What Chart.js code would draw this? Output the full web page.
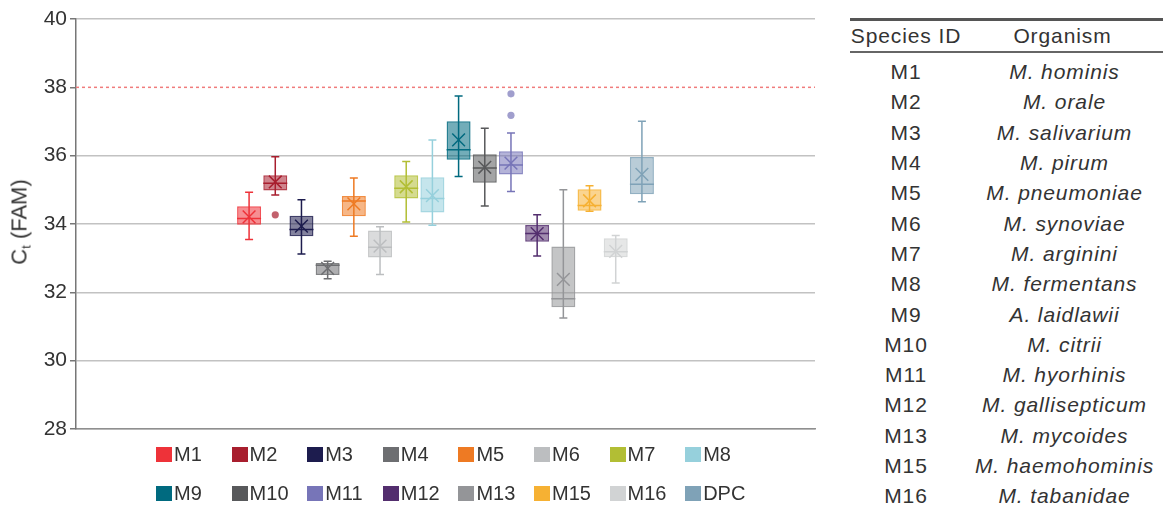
<!DOCTYPE html>
<html>
<head>
<meta charset="utf-8">
<script src="https://cdn.jsdelivr.net/npm/chart.js@4"></script>
<style>
  body { margin: 0; background: #fff; font-family: "Liberation Sans", Arial, sans-serif; color: #333; }
  #wrap { position: absolute; left: 0; top: 0; width: 840px; height: 508px; }
  #ytitle { position: absolute; left: 20px; top: 222px; transform: translate(-50%, -50%) rotate(-90deg);
            font-size: 22px; white-space: nowrap; color: #333; }
  #ytitle sub { font-size: 13px; vertical-align: -4px; }
  #legend { position: absolute; left: 156px; top: 446px; width: 620px; display: grid;
            grid-template-columns: repeat(8, 75.6px); row-gap: 23px; }
  .item { display: flex; align-items: center; height: 16px; font-size: 20px; }
  .sw { width: 16px; height: 15px; margin-right: 2px; flex: none; }
  #tbl { position: absolute; left: 850px; top: 18px; width: 313px; border-collapse: collapse; font-size: 21px; letter-spacing: 0.9px; }
  #tbl th { font-weight: normal; height: 30px; padding: 0; border-top: 3px solid #555; border-bottom: 2px solid #666; }
  #tbl td { height: 30.3px; padding: 0; text-align: center; }
  #tbl td.org { font-style: italic; padding-left: 4px; }
  #tbl tr.first td { padding-top: 4px; }
</style>
</head>
<body>
<div id="wrap"><canvas id="myChart"></canvas></div>
<div id="ytitle">C<sub>t</sub> (FAM)</div>
<div id="legend"></div>
<table id="tbl"></table>
<script>
// box plot values
var seriesNames = ['M1','M2','M3','M4','M5','M6','M7','M8','M9','M10','M11','M12','M13','M15','M16','DPC'];
var seriesColors = ['#EE3239','#A81E2E','#1D1C4E','#6D6E71','#EE7A23','#BCBEC0','#B2BE34','#96D0DC',
                    '#006A7F','#58595B','#7775B8','#532E6E','#949598','#F6B133','#D1D3D4','#7FA2B7'];
var mins    = [33.55, 34.85, 33.12, 32.40, 33.64, 32.52, 34.06, 33.96, 35.39, 34.53, 34.95, 33.06, 31.25, 34.37, 32.27, 34.65];
var q1s     = [33.98, 34.98, 33.64, 32.51, 34.23, 33.02, 34.75, 34.34, 35.88, 35.21, 35.45, 33.48, 31.56, 34.39, 33.03, 34.87];
var medians = [34.16, 35.19, 33.84, 32.79, 34.67, 33.32, 35.05, 34.75, 36.17, 35.64, 35.73, 33.72, 31.81, 34.54, 33.19, 35.16];
var q3s     = [34.52, 35.43, 34.24, 32.86, 34.82, 33.81, 35.43, 35.37, 37.01, 36.04, 36.13, 33.97, 33.34, 35.02, 33.58, 35.96];
var maxs    = [34.93, 35.97, 34.71, 32.91, 35.35, 33.92, 35.83, 36.46, 37.75, 36.80, 36.66, 34.27, 35.00, 35.12, 33.66, 37.01];
var means   = [34.21, 35.23, 33.94, 32.70, 34.59, 33.35, 35.09, 34.83, 36.46, 35.66, 35.78, 33.72, 32.38, 34.68, 33.20, 35.45];
var outliers = [[], [34.27], [], [], [], [], [], [], [], [], [37.18, 37.81], [], [], [], [], []];
var cutoff = 38;
var yTicks = [28, 30, 32, 34, 36, 38, 40];

var speciesIds = ['M1','M2','M3','M4','M5','M6','M7','M8','M9','M10','M11','M12','M13','M15','M16'];
var organisms = ['M. hominis','M. orale','M. salivarium','M. pirum','M. pneumoniae','M. synoviae','M. arginini',
                 'M. fermentans','A. laidlawii','M. citrii','M. hyorhinis','M. gallisepticum','M. mycoides',
                 'M. haemohominis','M. tabanidae'];

function withAlpha(hex, a) {
  var n = parseInt(hex.slice(1), 16);
  return 'rgba(' + (n >> 16) + ',' + ((n >> 8) & 255) + ',' + (n & 255) + ',' + a + ')';
}

var datasets = seriesNames.map(function (name, i) {
  return {
    label: name,
    data: [[q1s[i], q3s[i]]],
    backgroundColor: withAlpha(seriesColors[i], 0.55),
    borderColor: withAlpha(seriesColors[i], 0.85),
    borderWidth: 1.5,
    borderSkipped: false,
    categoryPercentage: 0.567,
    barPercentage: 0.916
  };
});

// whiskers, medians, means, outliers and the cut-off line
const boxExtras = {
  id: 'boxExtras',
  beforeDatasetsDraw(chart) {
    const ctx = chart.ctx, y = chart.scales.y, area = chart.chartArea;
    const py = y.getPixelForValue(cutoff);
    ctx.save();
    ctx.strokeStyle = '#F07C7C';
    ctx.lineWidth = 1.5;
    ctx.setLineDash([3, 3]);
    ctx.beginPath();
    ctx.moveTo(area.left, py);
    ctx.lineTo(area.right, py);
    ctx.stroke();
    ctx.restore();
  },
  afterDatasetsDraw(chart) {
    const ctx = chart.ctx, y = chart.scales.y;
    ctx.save();
    chart.data.datasets.forEach(function (ds, i) {
      const bar = chart.getDatasetMeta(i).data[0];
      const x = bar.x, half = bar.width / 2;
      const col = seriesColors[i];
      ctx.strokeStyle = col;
      ctx.lineWidth = 1.5;
      ctx.beginPath();
      ctx.moveTo(x, y.getPixelForValue(mins[i]));
      ctx.lineTo(x, y.getPixelForValue(maxs[i]));
      [mins[i], maxs[i]].forEach(function (v) {
        const p = y.getPixelForValue(v);
        ctx.moveTo(x - 4, p);
        ctx.lineTo(x + 4, p);
      });
      const pm = y.getPixelForValue(medians[i]);
      ctx.moveTo(x - half, pm);
      ctx.lineTo(x + half, pm);
      ctx.stroke();
      Chart.helpers.drawPoint(ctx, { pointStyle: 'crossRot', radius: 9, borderWidth: 1.5 }, x, y.getPixelForValue(means[i]));
      ctx.fillStyle = withAlpha(col, 0.7);
      outliers[i].forEach(function (v) {
        ctx.beginPath();
        ctx.arc(x, y.getPixelForValue(v), 3.6, 0, Math.PI * 2);
        ctx.fill();
      });
    });
    ctx.restore();
  }
};

const config = {
  type: 'bar',
  data: { labels: [''], datasets: datasets },
  options: {
    responsive: true,
    maintainAspectRatio: false,
    animation: false,
    layout: { padding: { left: 0, top: 19, right: 25, bottom: 79 } },
    plugins: { legend: { display: false }, tooltip: { enabled: false } },
    scales: {
      x: {
        ticks: { display: false },
        grid: { display: false },
        border: { display: true, color: '#8f8f8f', width: 1.5 },
        afterFit: function (s) { s.height = 0; }
      },
      y: {
        min: 28, max: 40,
        afterBuildTicks: function (s) { s.ticks = yTicks.map(function (v) { return { value: v }; }); },
        ticks: { color: '#333', padding: 3, font: { family: '"Liberation Sans", Arial, sans-serif', size: 21 } },
        grid: {
          color: function (c) { return c.tick && c.tick.value === cutoff ? 'rgba(0,0,0,0)' : '#c2c2c2'; },
          lineWidth: 1.5,
          tickColor: '#777',
          tickLength: 6
        },
        border: { color: '#777', width: 1.5 },
        afterFit: function (s) { s.width = 76; }
      }
    }
  },
  plugins: [boxExtras]
};

const myChart = new Chart(document.getElementById('myChart'), config);

// legend in a fixed column grid
var legendHtml = '';
seriesNames.forEach(function (name, i) {
  legendHtml += '<div class="item"><span class="sw" style="background:' + seriesColors[i] + '"></span>' + name + '</div>';
});
document.getElementById('legend').innerHTML = legendHtml;

// species table
var rows = '<tr><th style="width:112px">Species ID</th><th>Organism</th></tr>';
speciesIds.forEach(function (id, i) {
  rows += '<tr' + (i === 0 ? ' class="first"' : '') + '><td>' + id + '</td><td class="org">' + organisms[i] + '</td></tr>';
});
document.getElementById('tbl').innerHTML = rows;
</script>
</body>
</html>
